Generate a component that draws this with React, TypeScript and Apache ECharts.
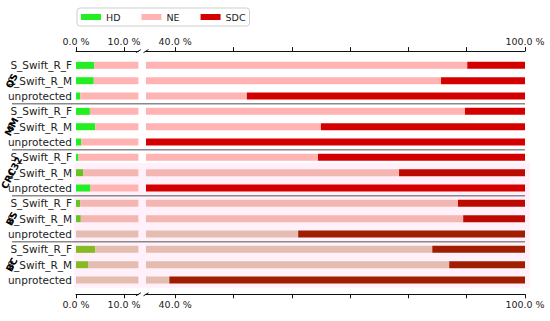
import React, { useEffect, useRef } from 'react';
import * as echarts from 'echarts';

const groups = ['QS', 'MM', 'CRC32', 'BS', 'BC'];
const variants = ['S_Swift_R_F', 'S_Swift_R_M', 'unprotected'];
const hd = [3.8, 3.7, 0.9, 2.9, 4.0, 1.1, 0.5, 1.5, 3.0, 0.9, 1.0, 0.0, 4.0, 2.5, 0.0];
const ne = [86.3, 81.9, 51.4, 86.8, 61.0, 21.9, 64.0, 76.9, 17.0, 87.6, 88.4, 61.1, 80.1, 84.5, 39.0];
const sdc = [9.9, 14.4, 47.7, 10.3, 35.0, 77.0, 35.5, 21.6, 80.0, 11.5, 10.6, 38.9, 15.9, 13.0, 61.0];
const leftTickLabels = [0, 10];
const rightTickLabels = [40, 100];
const rightTicks = [40, 50, 60, 70, 80, 90, 100];

// style: tint level of each row (overlay shading in the original)
const tint = [0, 0, 0, 0, 0, 0, 0, 1, 0, 1, 1, 2, 2, 2, 2];
const palettes = [
  { HD: '#22ee22', NE: '#ffb3b3', SDC: '#d40000' },
  { HD: '#66c422', NE: '#f4b6b0', SDC: '#bd0a00' },
  { HD: '#84bb22', NE: '#e4bdb0', SDC: '#9f1e00' },
];

const rowKeys = hd.map((_, i) => String(i));
const rowLabel = (i: number) => variants[i % 3];

const GRID_TOP = 57.7;
const GRID_H = 230;
const AX_OFF = 6.6;
const L_LEFT = 76;
const L_W = 62.4;
const R_LEFT = 146;
const R_W = 379;

export default function App() {
  const ref = useRef<HTMLDivElement>(null);
  useEffect(() => {
    document.body.style.margin = '0';
    const chart = echarts.init(ref.current!, undefined, { renderer: 'svg' });
    const font = 'DejaVu Sans';
    const mkSeries = (name: 'HD' | 'NE' | 'SDC', vals: number[], side: number) => ({
      type: 'bar',
      name,
      stack: side === 0 ? 'L' : 'R',
      xAxisIndex: side === 0 ? 0 : 2,
      yAxisIndex: side,
      barWidth: 7,
      itemStyle: { color: palettes[0][name] },
      data: vals.map((v, i) => ({ value: v, itemStyle: { color: palettes[tint[i]][name] } })),
    });
    const fmt = (v: number) => v.toFixed(1) + ' %';
    const mkX = (grid: number, pos: 'top' | 'bottom', min: number, max: number, labels: number[], ticks: number[]) => ({
      type: 'value',
      gridIndex: grid,
      position: pos,
      min,
      max,
      offset: AX_OFF,
      axisLine: { show: true, onZero: false, lineStyle: { color: '#111', width: 1 } },
      axisTick: { show: true, length: 4, customValues: ticks, lineStyle: { color: '#111' } },
      axisLabel: {
        customValues: labels,
        formatter: fmt,
        color: '#222',
        fontSize: 9.5,
        fontFamily: font,
        margin: 5,
      },
      splitLine: { show: false },
    });
    const option: any = {
      animation: false,
      backgroundColor: '#fff',
      legend: {
        left: 77,
        top: 8,
        padding: [4, 4],
        itemWidth: 20,
        itemHeight: 6,
        itemGap: 21,
        icon: 'rect',
        borderColor: '#cfcfcf',
        borderWidth: 1,
        borderRadius: 3,
        textStyle: { fontSize: 9.5, fontFamily: font, color: '#222' },
        data: ['HD', 'NE', 'SDC'],
      },
      grid: [
        { left: L_LEFT, width: L_W, top: GRID_TOP, height: GRID_H },
        { left: R_LEFT, width: R_W, top: GRID_TOP, height: GRID_H },
      ],
      xAxis: [
        mkX(0, 'top', 0, 13, leftTickLabels, leftTickLabels),
        mkX(0, 'bottom', 0, 13, leftTickLabels, leftTickLabels),
        mkX(1, 'top', 35, 100, rightTickLabels, rightTicks),
        mkX(1, 'bottom', 35, 100, rightTickLabels, rightTicks),
      ],
      yAxis: [
        {
          type: 'category',
          gridIndex: 0,
          inverse: true,
          data: rowKeys,
          axisLine: { show: false },
          axisTick: { show: false },
          axisLabel: {
            formatter: (v: string) => rowLabel(Number(v)),
            color: '#222',
            fontSize: 10.5,
            fontFamily: font,
            margin: 4,
          },
        },
        {
          type: 'category',
          gridIndex: 1,
          inverse: true,
          data: rowKeys,
          axisLine: { show: false },
          axisTick: { show: false },
          axisLabel: { show: false },
        },
      ],
      series: [
        mkSeries('HD', hd, 0),
        mkSeries('NE', ne, 0),
        mkSeries('SDC', sdc, 0),
        mkSeries('HD', hd, 1),
        mkSeries('NE', ne, 1),
        mkSeries('SDC', sdc, 1),
      ],
    };
    chart.setOption(option);

    const yOf = (i: number) => chart.convertToPixel({ yAxisIndex: 0 }, String(i)) as number;
    const step = yOf(1) - yOf(0);
    const graphics: any[] = [];
    // light shading behind lower rows
    graphics.push({
      type: 'rect',
      z: 0,
      silent: true,
      shape: { x: 74, y: yOf(7) - step / 2 - 2, width: 456, height: yOf(14) + step / 2 - (yOf(7) - step / 2 - 2) },
      style: { fill: '#fff0fa' },
    });
    for (let g = 1; g < groups.length; g++) {
      const y = (yOf(3 * g - 1) + yOf(3 * g)) / 2;
      graphics.push({
        type: 'line',
        z: 5,
        silent: true,
        shape: { x1: 12, y1: y, x2: R_LEFT + R_W, y2: y },
        style: { stroke: '#8a8a8a', lineWidth: 1.5 },
      });
    }
    groups.forEach((gname, g) => {
      graphics.push({
        type: 'text',
        z: 6,
        x: 11.5,
        y: yOf(3 * g + 1),
        rotation: 1.1,
        style: {
          text: gname,
          fontSize: 9.5,
          fontWeight: 'bold',
          fontFamily: font,
          fill: '#000',
          align: 'center',
          verticalAlign: 'middle',
        },
      });
    });
    // axis break marks
    const topY = GRID_TOP - AX_OFF;
    const botY = GRID_TOP + GRID_H + AX_OFF;
    [topY, botY].forEach((y) => {
      [L_LEFT + L_W, R_LEFT].forEach((x) => {
        graphics.push({
          type: 'line',
          z: 6,
          silent: true,
          shape: { x1: x - 2.5, y1: y + 1.5, x2: x + 2.5, y2: y - 1.5 },
          style: { stroke: '#111', lineWidth: 1 },
        });
      });
    });
    chart.setOption({ graphic: graphics });

    return () => chart.dispose();
  }, []);
  return <div ref={ref} style={{ width: 550, height: 321 }} />;
}
